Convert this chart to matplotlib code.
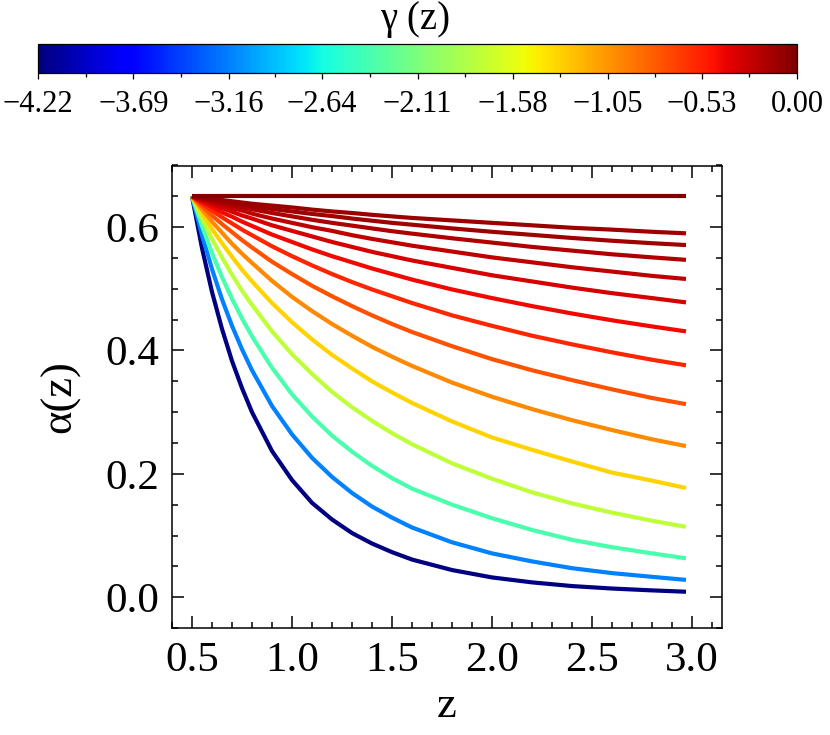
import matplotlib
matplotlib.use("Agg")
import matplotlib.pyplot as plt
from matplotlib import cm, colors
from matplotlib.ticker import MultipleLocator, FixedLocator, FormatStrFormatter

plt.rcParams['font.family'] = ['Liberation Serif', 'DejaVu Serif']

# ---- data ----
z = [0.5, 0.55, 0.6, 0.65, 0.7, 0.75, 0.8, 0.9, 1.0, 1.1, 1.2, 1.3, 1.4, 1.5,
     1.6, 1.8, 2.0, 2.2, 2.4, 2.6, 2.8, 2.97]

# gamma value (colour) of each curve, from most negative (navy) to 0 (dark red)
gamma = [-4.22, -3.16, -2.37, -1.78, -1.33, -1.00, -0.75, -0.56,
         -0.42, -0.32, -0.24, -0.18, -0.13, -0.10, 0.0]

alpha_curves = [
    [0.65, 0.566, 0.495, 0.435, 0.383, 0.339, 0.300, 0.237, 0.190, 0.153, 0.126,
     0.104, 0.087, 0.073, 0.061, 0.044, 0.032, 0.024, 0.018, 0.014, 0.011, 0.0088],
    [0.65, 0.587, 0.532, 0.483, 0.440, 0.402, 0.368, 0.310, 0.264, 0.226, 0.195,
     0.169, 0.147, 0.129, 0.113, 0.089, 0.071, 0.058, 0.047, 0.039, 0.033, 0.028],
    [0.65, 0.602, 0.558, 0.519, 0.484, 0.452, 0.423, 0.372, 0.329, 0.293, 0.262,
     0.236, 0.213, 0.193, 0.176, 0.150, 0.128, 0.109, 0.093, 0.081, 0.071, 0.063],
    [0.65, 0.614, 0.581, 0.551, 0.523, 0.497, 0.474, 0.431, 0.394, 0.362, 0.333,
     0.308, 0.286, 0.266, 0.248, 0.217, 0.192, 0.170, 0.152, 0.137, 0.124, 0.114],
    [0.65, 0.623, 0.597, 0.574, 0.552, 0.531, 0.512, 0.477, 0.446, 0.418, 0.393,
     0.371, 0.350, 0.332, 0.315, 0.285, 0.259, 0.239, 0.220, 0.202, 0.189, 0.177],
    [0.65, 0.629, 0.609, 0.591, 0.573, 0.557, 0.542, 0.513, 0.487, 0.464, 0.443,
     0.424, 0.406, 0.390, 0.375, 0.348, 0.325, 0.305, 0.287, 0.271, 0.256, 0.245],
    [0.65, 0.634, 0.619, 0.605, 0.592, 0.579, 0.567, 0.544, 0.524, 0.505, 0.488,
     0.472, 0.457, 0.443, 0.430, 0.407, 0.386, 0.368, 0.352, 0.337, 0.323, 0.313],
    [0.65, 0.638, 0.627, 0.616, 0.606, 0.596, 0.587, 0.569, 0.553, 0.538, 0.524,
     0.511, 0.499, 0.488, 0.477, 0.457, 0.440, 0.424, 0.410, 0.397, 0.385, 0.376],
    [0.65, 0.641, 0.633, 0.624, 0.617, 0.609, 0.602, 0.588, 0.576, 0.564, 0.553,
     0.543, 0.533, 0.524, 0.515, 0.499, 0.485, 0.472, 0.460, 0.449, 0.439, 0.431],
    [0.65, 0.643, 0.637, 0.631, 0.625, 0.619, 0.614, 0.603, 0.594, 0.585, 0.576,
     0.568, 0.560, 0.553, 0.546, 0.534, 0.522, 0.512, 0.502, 0.493, 0.485, 0.478],
    [0.65, 0.645, 0.640, 0.636, 0.631, 0.627, 0.622, 0.614, 0.607, 0.600, 0.594,
     0.587, 0.581, 0.5755, 0.570, 0.5605, 0.551, 0.543, 0.535, 0.528, 0.521, 0.516],
    [0.65, 0.6465, 0.643, 0.6395, 0.636, 0.6325, 0.629, 0.623, 0.6175, 0.612, 0.607,
     0.6025, 0.598, 0.5935, 0.5895, 0.582, 0.575, 0.568, 0.562, 0.556, 0.551, 0.547],
    [0.65, 0.647, 0.6445, 0.642, 0.639, 0.6365, 0.634, 0.6295, 0.6255, 0.6215, 0.618,
     0.614, 0.6105, 0.607, 0.604, 0.598, 0.5925, 0.5875, 0.5825, 0.578, 0.574, 0.571],
    [0.65, 0.648, 0.646, 0.644, 0.642, 0.640, 0.638, 0.635, 0.632, 0.6285, 0.6255,
     0.623, 0.620, 0.6175, 0.615, 0.611, 0.607, 0.603, 0.599, 0.596, 0.5925, 0.590],
    [0.65, 0.65, 0.65, 0.65, 0.65, 0.65, 0.65, 0.65, 0.65, 0.65, 0.65,
     0.65, 0.65, 0.65, 0.65, 0.65, 0.65, 0.65, 0.65, 0.65, 0.65, 0.65],
]

cbar_ticks = [-4.22, -3.69, -3.16, -2.64, -2.11, -1.58, -1.05, -0.53, 0.0]
cbar_labels = ['\u22124.22', '\u22123.69', '\u22123.16', '\u22122.64', '\u22122.11',
               '\u22121.58', '\u22121.05', '\u22120.53', '0.00']

# ---- figure ----
W, H = 830, 735
fig = plt.figure(figsize=(W / 100, H / 100), dpi=100)

cmap = plt.get_cmap('jet')
norm = colors.Normalize(vmin=-4.22, vmax=0.0)

ax = fig.add_axes([172 / W, 1 - 628 / H, 550 / W, (628 - 165.5) / H])
for g, a in zip(gamma, alpha_curves):
    ax.plot(z, a, color=cmap(norm(g)), lw=3.0, solid_capstyle='butt',
            solid_joinstyle='round')

ax.set_xlim(0.4, 3.15)
ax.set_ylim(-0.05, 0.70)
ax.xaxis.set_major_locator(MultipleLocator(0.5))
ax.xaxis.set_minor_locator(MultipleLocator(0.1))
ax.yaxis.set_major_locator(MultipleLocator(0.2))
ax.yaxis.set_minor_locator(MultipleLocator(0.05))
ax.xaxis.set_major_formatter(FormatStrFormatter('%.1f'))
ax.yaxis.set_major_formatter(FormatStrFormatter('%.1f'))
ax.tick_params(which='both', direction='in', top=True, right=True, width=1.1,
               labelsize=31, colors='black')
ax.tick_params(which='major', length=8.5)
ax.tick_params(which='minor', length=4.3)
ax.tick_params(axis='x', which='major', pad=10)
ax.tick_params(axis='y', which='major', pad=9)
for s in ax.spines.values():
    s.set_linewidth(1.1)

ax.set_xlabel('z', fontsize=32, labelpad=4)
ax.set_ylabel('\u03b1(z)', fontsize=32, labelpad=18)

# ---- colorbar ----
cax = fig.add_axes([38 / W, 1 - 73 / H, 759 / W, 29 / H])
sm = cm.ScalarMappable(norm=norm, cmap=cmap)
cb = fig.colorbar(sm, cax=cax, orientation='horizontal')
cb.set_ticks(cbar_ticks)
cb.set_ticklabels(cbar_labels)
mids = [(cbar_ticks[i] + cbar_ticks[i + 1]) / 2 for i in range(len(cbar_ticks) - 1)]
cax.xaxis.set_minor_locator(FixedLocator(mids))
cax.tick_params(which='both', direction='out', width=0.9, labelsize=22, pad=8)
cax.tick_params(which='major', length=4)
cax.tick_params(which='minor', length=3)
cb.outline.set_linewidth(0.9)

fig.text(415 / W, 1 - 20 / H, '\u03b3 (z)', fontsize=28, ha='center', va='center')

fig.savefig('out.png', dpi=100)
